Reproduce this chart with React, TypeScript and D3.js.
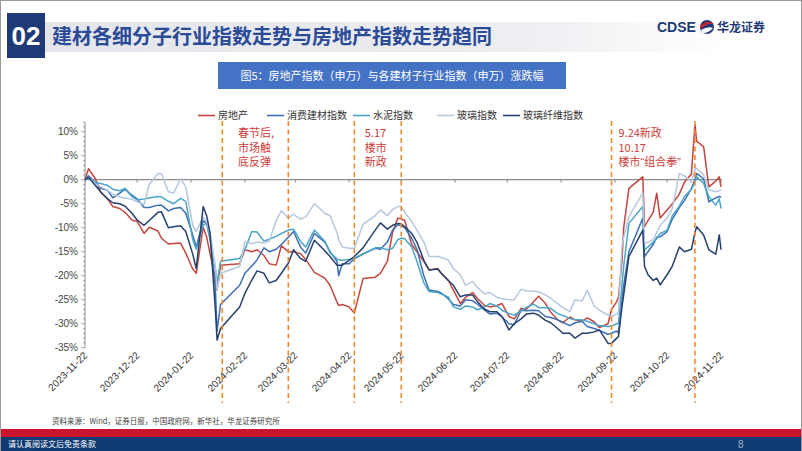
import * as d3 from 'd3';

const dates = [
  '2023-11-22', '2023-11-24', '2023-11-28', '2023-12-01', '2023-12-05', '2023-12-08', '2023-12-12', '2023-12-15',
  '2023-12-19', '2023-12-22', '2023-12-26', '2023-12-29', '2024-01-03', '2024-01-05', '2024-01-09', '2024-01-12',
  '2024-01-16', '2024-01-19', '2024-01-23', '2024-01-25', '2024-01-29', '2024-01-31', '2024-02-02', '2024-02-05',
  '2024-02-06', '2024-02-08', '2024-02-19', '2024-02-22', '2024-02-26', '2024-02-29', '2024-03-04', '2024-03-07',
  '2024-03-11', '2024-03-14', '2024-03-18', '2024-03-21', '2024-03-25', '2024-03-28', '2024-04-02', '2024-04-08',
  '2024-04-11', '2024-04-15', '2024-04-16', '2024-04-18', '2024-04-22', '2024-04-25', '2024-04-30', '2024-05-07',
  '2024-05-10', '2024-05-14', '2024-05-17', '2024-05-20', '2024-05-22', '2024-05-24', '2024-05-28', '2024-05-31',
  '2024-06-04', '2024-06-07', '2024-06-12', '2024-06-14', '2024-06-18', '2024-06-21', '2024-06-25', '2024-06-28',
  '2024-07-02', '2024-07-05', '2024-07-09', '2024-07-12', '2024-07-16', '2024-07-19', '2024-07-23', '2024-07-26',
  '2024-07-30', '2024-08-02', '2024-08-06', '2024-08-09', '2024-08-13', '2024-08-16', '2024-08-20', '2024-08-23',
  '2024-08-27', '2024-08-30', '2024-09-03', '2024-09-06', '2024-09-10', '2024-09-13', '2024-09-18', '2024-09-20',
  '2024-09-23', '2024-09-24', '2024-09-26', '2024-09-27', '2024-09-30', '2024-10-08', '2024-10-09', '2024-10-11',
  '2024-10-14', '2024-10-16', '2024-10-18', '2024-10-22', '2024-10-25', '2024-10-29', '2024-11-01', '2024-11-05',
  '2024-11-07', '2024-11-08', '2024-11-12', '2024-11-15', '2024-11-19', '2024-11-21', '2024-11-22',
];

// 房地产
const realEstate = [
  0, 2.3, 0.2, -2.6, -4.0, -5.6, -6.0, -6.8, -8.4, -8.7, -11.2, -9.9, -10.7, -12.2, -13.4, -13.3,
  -13.2, -15.3, -18.6, -19.5, -9.9, -11.9, -15.5, -20.5, -23, -17.8, -17.5, -14.6, -15, -14.6, -15.8, -17.5,
  -17.8, -13.8, -15, -15, -15.4, -16.6, -19.3, -20.5, -22, -25.5, -26.2, -26, -26.5, -27.8, -20.6, -20.3,
  -19.5, -17, -11, -8, -8.2, -8.5, -13.5, -15, -17, -18.8, -18.5, -19.5, -20.9, -23, -25.8, -24.5,
  -23.5, -24.8, -26.2, -26.5, -26.2, -25.8, -28.5, -29, -26.8, -27, -25.5, -24.3, -25.8, -27.6, -29.2, -29.8,
  -28.6, -29.2, -29.5, -28.8, -29.6, -30.8, -30, -27, -25.4, -24.5, -17, -10, -1.8, 0.6, -9.8, -8.5,
  -6.8, -2.8, -8, -6.3, -5, -3, -0.5, 1.2, 11.5, 8, 6.9, -1.5, -0.3, 0.6, -1.5,
];

// 消费建材指数
const consumerMaterials = [
  0, 0.8, -0.6, -1.8, -2.2, -3.8, -2.8, -2, -3.2, -4, -5.8, -5.8, -5.3, -5.3, -6.5, -6,
  -5.8, -7, -11.5, -14, -8.5, -9.2, -12.2, -22.5, -31.5, -26, -22, -19.5, -18, -16.7, -14.2, -15,
  -14.5, -13.5, -12, -10.8, -14, -15.3, -11.2, -13, -15, -17, -20, -17.5, -17.5, -16.5, -15.5, -14.3,
  -14.5, -13, -10.5, -9.4, -9.6, -10, -12.2, -14.5, -20, -23, -23.3, -23.6, -24.8, -26, -26.3, -25,
  -25.2, -26, -27.2, -28, -27.8, -28.6, -30, -30.2, -27.2, -27.3, -27.2, -27.3, -28.5, -28.7, -29.2, -29.7,
  -30.4, -29.8, -29.5, -30.6, -31, -31.4, -32.2, -32, -31.5, -32, -25, -22, -15, -8, -16, -15,
  -13.5, -12, -11.9, -10.8, -8.2, -5.8, -4.3, -1.8, 0, 1.3, 0.2, -4.6, -3.8, -3.5, -3.7,
];

// 水泥指数
const cement = [
  0, 0.3, -0.5, -0.8, -1.2, -2, -2.3, -1.8, -3.5, -4.2, -4, -3.8, -3.5, -3.6, -4.5, -5,
  -3.9, -4.5, -12.5, -14.5, -9.5, -9, -12.6, -18.5, -21.5, -17, -16.4, -14.6, -10.8, -10.9, -12.8, -12.4,
  -11.8, -11.2, -10.5, -10.3, -12.8, -14, -10.5, -12.8, -15.2, -16.5, -16.7, -16.8, -16.6, -16.4, -15.4, -14.2,
  -14.2, -14.6, -14.3, -12.5, -12.2, -12.3, -14, -17, -21.5, -23.3, -23.5, -23.8, -24.4, -26.5, -27, -26.3,
  -26.5, -27.1, -26.5, -25.8, -26.3, -27.2, -27.9, -28.2, -27.3, -26.6, -25.9, -26.6, -26.7, -26.8, -27.9, -28.3,
  -28.9, -29.2, -29.2, -29.5, -30, -30.4, -30.6, -30.5, -30, -29.9, -22, -18, -9.1, -5.6, -14.6, -14,
  -13, -12.3, -11.2, -10.5, -7.5, -5.5, -3.5, -2, -0.5, 0.6, -0.8, -3.5, -5.3, -4, -6,
];

// 玻璃指数
const glass = [
  0, 0.5, -0.8, -1.5, -2.2, -3, -3.6, -3.8, -4.1, -4.6, -5.2, -1, 1.3, 1.2, -2.5, -2.8,
  0.2, -1.5, -9.5, -10.8, -7.8, -8.8, -11.2, -18, -23, -19.5, -18.1, -13, -13.3, -13, -13.2, -12.8,
  -8.5, -6.5, -8, -7.2, -8.2, -7.8, -5, -7, -7.5, -11, -12.5, -14, -14.3, -14.3, -9.3, -7.5,
  -6.3, -7.5, -6.2, -5.6, -5.6, -6.8, -8.7, -10.5, -13, -16, -16, -16.2, -16.7, -18.5, -19.8, -22,
  -21.2, -22.5, -23.8, -23.5, -24.5, -24.8, -25, -25, -22.8, -23.2, -23.2, -23.4, -24, -24.7, -25.8, -26.7,
  -27.5, -25, -25.3, -23, -26.3, -27.2, -28.2, -28.5, -28, -27.5, -14, -12, -7.7, -2.8, -13.3, -13,
  -12.5, -11, -9.5, -8, -6, 1.3, 0.8, -0.5, 2, 2.4, 1, -2.1, -2.5, -2.3, -2.1,
];

// 玻璃纤维指数
const glassFiber = [
  0, 0.5, -1.2, -2.5, -4, -4.8, -5, -5.5, -7, -8.4, -9.5, -8.5, -6.8, -6.7, -10, -9.8,
  -9.6, -10.8, -15.5, -18.5, -5.6, -7.5, -11.2, -27, -33.4, -31, -26.5, -23.7, -20.9, -19, -19.5, -21.5,
  -21, -19.5, -17.4, -14.6, -16.4, -17, -12.6, -14.8, -16, -17.8, -17.8, -17.8, -16.8, -16, -14.2, -10.5,
  -9, -10.3, -9.5, -9.1, -9.2, -9.8, -11.2, -13, -16.8, -18.8, -18.6, -19.5, -21, -22, -24.4, -24,
  -24, -25.5, -27, -27.5, -27.5, -28.5, -31.3, -30, -29, -28, -27.8, -28.2, -29.3, -29.8, -31, -32,
  -32, -33, -32, -32, -31.7, -31.3, -34.1, -34.1, -33, -32.7, -26.5, -24, -16, -10.5, -18.1, -19.8,
  -21, -20.5, -21.9, -19.8, -18, -14, -15, -14.5, -11, -9.8, -11.5, -14.6, -15.5, -11.5, -14.6,
];

const seriesNames = ['房地产', '消费建材指数', '水泥指数', '玻璃指数', '玻璃纤维指数'];
const seriesColors = ['#c4463f', '#3d6fb4', '#49a6c6', '#b5c8df', '#253f6e'];
const seriesValues = [realEstate, consumerMaterials, cement, glass, glassFiber];

const tickDates = [
  '2023-11-22', '2023-12-22', '2024-01-22', '2024-02-22', '2024-03-22', '2024-04-22', '2024-05-22',
  '2024-06-22', '2024-07-22', '2024-08-22', '2024-09-22', '2024-10-22', '2024-11-22',
];
const yTicks = [10, 5, 0, -5, -10, -15, -20, -25, -30, -35];
const eventDates = ['2024-02-09', '2024-03-18', '2024-04-25', '2024-05-22', '2024-09-20', '2024-11-07'];
const notes = [
  { date: '2024-02-18', lines: ['春节后,', '市场触', '底反弹'] },
  { date: '2024-05-01', lines: ['5.17', '楼市', '新政'] },
  { date: '2024-09-24', lines: ['9.24新政', '10.17', '楼市“组合拳”'] },
];

const parse = d3.timeParse('%Y-%m-%d');
const CJK = '"Noto Sans CJK SC", "Noto Sans", sans-serif';
const NUM = '"Liberation Sans", Arial, sans-serif';

// narrow latin quotes inside CJK annotation text
const renderNote = (s: string) => {
  if (!/[“”]/.test(s)) return s;
  return s.split(/([“”])/).filter(p => p).map((p, i) =>
    p === '“' || p === '”'
      ? <tspan key={i} fontFamily={NUM}>{p}</tspan>
      : <tspan key={i}>{p}</tspan>);
};

export default function App() {
  const W = 802;
  const H = 451;
  const x = d3.scaleTime()
    .domain([parse('2023-11-22')!, parse('2024-11-22')!])
    .range([85, 721]);
  const y = d3.scaleLinear().domain([-35, 10]).range([347.7, 131.7]);

  const line = d3.line<[Date, number]>()
    .x(d => x(d[0]))
    .y(d => y(d[1]));

  const minorTicks = d3.range(-35, 12.1, 1);

  return (
    <svg width={W} height={H} viewBox={`0 0 ${W} ${H}`}
      style={{ position: 'absolute', left: 0, top: 0, background: '#fff' }}>
      <defs>
        <linearGradient id="band" x1="0" x2="1" y1="0" y2="0">
          <stop offset="0%" stopColor="#e3e5ea" />
          <stop offset="70%" stopColor="#eceef1" />
          <stop offset="100%" stopColor="#ffffff" />
        </linearGradient>
      </defs>
      <rect x={0.5} y={0.5} width={W - 1} height={H - 1} fill="#fff" stroke="#9a9a9a" />

      {/* header */}
      <rect x={45} y={22} width={680} height={30} fill="url(#band)" />
      <rect x={7} y={13} width={38} height={45} fill="#1f3b77" />
      <text x={26} y={45} textAnchor="middle" fill="#fff" fontFamily={NUM} fontWeight="bold" fontSize={26}>02</text>
      <text x={52} y={44} fill="#2b4b98" fontFamily={CJK} fontWeight="bold" fontSize={20}>
        建材各细分子行业指数走势与房地产指数走势趋同
      </text>
      <text x={657} y={32} fill="#1f3b77" fontFamily={NUM} fontWeight="bold" fontSize={14}>CDSE</text>
      <circle cx={707} cy={27} r={7} fill="#1f3b77" />
      <path d="M700,26 Q707,19 714,24 Q707,23 700,29 Z" fill="#d2202f" />
      <path d="M701,30 Q708,26 713,28 Q709,33 703,33 Z" fill="#fff" />
      <text x={717} y={32} fill="#1f3b77" fontFamily={CJK} fontWeight="bold" fontSize={12}>华龙证券</text>

      <rect x={218} y={62} width={348} height={27} fill="#4472c4" />
      <text x={392} y={79.5} textAnchor="middle" fill="#fff" fontFamily={CJK} fontSize={11}>
        图5：房地产指数（申万）与各建材子行业指数（申万）涨跌幅
      </text>

      {/* legend */}
      {seriesNames.map((name, i) => {
        const lx = [198, 267, 353, 437, 503][i];
        return (
          <g key={name}>
            <line x1={lx} x2={lx + 17} y1={115.5} y2={115.5} stroke={seriesColors[i]} strokeWidth={1.6} />
            <text x={lx + 20} y={119} fill="#333" fontFamily={CJK} fontSize={10}>{name}</text>
          </g>
        );
      })}

      {/* y axis */}
      <line x1={85} x2={85} y1={y(12)} y2={y(-35)} stroke="#8c8c8c" />
      {minorTicks.map(t => (
        <line key={t} x1={t % 5 === 0 ? 81 : 83} x2={85} y1={y(t)} y2={y(t)} stroke="#8c8c8c" strokeWidth={0.8} />
      ))}
      {yTicks.map(t => (
        <text key={t} x={78} y={y(t) + 3.5} textAnchor="end" fill="#444" fontFamily={NUM} fontSize={10}>
          {t}%
        </text>
      ))}

      {/* zero axis */}
      <line x1={85} x2={722} y1={y(0)} y2={y(0)} stroke="#8c8c8c" strokeWidth={1.2} />
      {tickDates.map(d => (
        <line key={d} x1={x(parse(d)!)} x2={x(parse(d)!)} y1={y(0)} y2={y(0) + 3} stroke="#8c8c8c" />
      ))}
      {tickDates.map(d => {
        const tx = x(parse(d)!) + 3;
        const ty = 356;
        return (
          <text key={'l' + d} x={tx} y={ty} transform={`rotate(-45 ${tx} ${ty})`} textAnchor="end"
            fill="#333" fontFamily={NUM} fontSize={10}>
            {d}
          </text>
        );
      })}

      {/* series */}
      {seriesValues.map((vals, i) => (
        <path key={seriesNames[i]}
          d={line(dates.map((d, j) => [parse(d)!, vals[j]] as [Date, number])) || ''}
          fill="none" stroke={seriesColors[i]} strokeWidth={1.5} strokeLinejoin="round" />
      ))}

      {/* events */}
      {eventDates.map(d => (
        <line key={d} x1={x(parse(d)!)} x2={x(parse(d)!)} y1={121} y2={403}
          stroke="#ee8a2e" strokeWidth={1.6} strokeDasharray="5,3.5" />
      ))}
      {notes.map(n => n.lines.map((l, k) => (
        <text key={n.date + k} x={x(parse(n.date)!)} y={137 + k * 14.5}
          fill="#cf3b3a" fontFamily={CJK} fontSize={11}>{renderNote(l)}</text>
      )))}

      {/* footer */}
      <text x={52} y={424} fill="#444" fontFamily={CJK} fontSize={7.5}>
        资料来源：Wind，证券日报，中国政府网，新华社，华龙证券研究所
      </text>
      <rect x={1} y={429} width={800} height={8} fill="#c8152b" />
      <rect x={1} y={437} width={800} height={14} fill="#0f3a72" />
      <text x={8} y={447} fill="#fff" fontFamily={CJK} fontSize={8}>请认真阅读文后免责条款</text>
      <text x={738} y={448} fill="#9fb0c8" fontFamily={NUM} fontSize={10}>8</text>
    </svg>
  );
}
